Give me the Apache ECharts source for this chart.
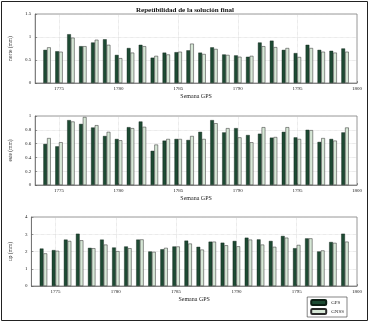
<!DOCTYPE html>
<html>
<head>
<meta charset="utf-8">
<script src="https://cdn.jsdelivr.net/npm/echarts@6/dist/echarts.min.js"></script>
<style>
  html, body { margin: 0; padding: 0; background: #fff; }
  #chart { width: 370px; height: 323px; }
</style>
</head>
<body>
<div id="chart"></div>
<script>
// GPS weeks on the x axis (1773 and 1800 are empty ends of the axis)
const weeks = [1773, 1774, 1775, 1776, 1777, 1778, 1779, 1780, 1781, 1782, 1783, 1784, 1785, 1786,
  1787, 1788, 1789, 1790, 1791, 1792, 1793, 1794, 1795, 1796, 1797, 1798, 1799, 1800];

// repeatability (mm), weeks 1774..1799
const norteGps = [0.72, 0.69, 1.06, 0.80, 0.88, 0.95, 0.61, 0.76, 0.83, 0.55, 0.66, 0.67, 0.71,
  0.66, 0.775, 0.62, 0.60, 0.57, 0.88, 0.92, 0.72, 0.65, 0.83, 0.72, 0.70, 0.75];
const norteGnss = [0.775, 0.68, 0.985, 0.80, 0.94, 0.83, 0.54, 0.66, 0.80, 0.59, 0.62, 0.68, 0.855,
  0.63, 0.74, 0.61, 0.57, 0.59, 0.80, 0.78, 0.76, 0.565, 0.76, 0.68, 0.66, 0.68];

const esteGps = [0.595, 0.56, 0.94, 0.885, 0.833, 0.71, 0.667, 0.838, 0.92, 0.495, 0.643, 0.667, 0.652,
  0.77, 0.94, 0.762, 0.824, 0.724, 0.743, 0.686, 0.77, 0.69, 0.80, 0.624, 0.667, 0.762];
const esteGnss = [0.68, 0.62, 0.92, 0.985, 0.867, 0.77, 0.648, 0.824, 0.843, 0.586, 0.667, 0.667, 0.71,
  0.667, 0.895, 0.824, 0.69, 0.619, 0.838, 0.695, 0.838, 0.667, 0.795, 0.68, 0.643, 0.833];

const upGps = [2.17, 2.08, 2.69, 3.03, 2.21, 2.69, 2.23, 2.29, 2.69, 2.00, 2.13, 2.29, 2.63,
  2.27, 2.57, 2.51, 2.61, 2.80, 2.70, 2.61, 2.90, 2.19, 2.76, 2.00, 2.55, 3.03];
const upGnss = [1.89, 2.04, 2.61, 2.65, 2.19, 2.40, 2.02, 2.19, 2.70, 1.98, 2.21, 2.29, 2.46,
  2.11, 2.57, 2.36, 2.30, 2.69, 2.40, 2.27, 2.80, 2.38, 2.76, 2.06, 2.50, 2.57];

const panels = [
  { name: "norte (mm)", gps: norteGps, gnss: norteGnss, max: 1.5, step: 0.5, top: 14 },
  { name: "este (mm)", gps: esteGps, gnss: esteGnss, max: 1, step: 0.2, top: 116 },
  { name: "up (mm)", gps: upGps, gnss: upGnss, max: 4, step: 1, top: 217 },
];

const FONT = "Liberation Serif";
const pad = (arr) => [null, ...arr, null];
const isTick = (i) => weeks[i] % 5 === 0;

const chart = echarts.init(document.getElementById("chart"), null, { renderer: "canvas" });

const grids = panels.map((p) => ({
  left: 22, right: 13, top: p.top, height: 69,
  show: true, borderColor: "#555", borderWidth: 0.6, backgroundColor: "#fff",
}));

const xAxes = panels.map((p, i) => ({
  type: "category", gridIndex: i, data: weeks, boundaryGap: false,
  name: "Semana GPS", nameLocation: "middle", nameGap: 10,
  nameTextStyle: { fontFamily: FONT, fontSize: 6, color: "#222" },
  axisLine: { lineStyle: { color: "#555", width: 0.6 } },
  axisTick: { inside: true, length: 2, interval: isTick, lineStyle: { color: "#555", width: 0.6 } },
  axisLabel: { interval: isTick, fontFamily: FONT, fontSize: 5, color: "#222", margin: 3 },
  splitLine: { show: true, interval: isTick, lineStyle: { color: "#c8c8c8", type: "dotted", width: 0.6 } },
}));

const yAxes = panels.map((p, i) => ({
  type: "value", gridIndex: i, min: 0, max: p.max, interval: p.step,
  name: p.name, nameLocation: "middle", nameGap: 12,
  nameTextStyle: { fontFamily: FONT, fontSize: 5.5, color: "#222" },
  axisLine: { show: true, lineStyle: { color: "#555", width: 0.6 } },
  axisTick: { show: true, inside: true, length: 2, lineStyle: { color: "#555", width: 0.6 } },
  axisLabel: { fontFamily: FONT, fontSize: 5, color: "#222", margin: 4 },
  splitLine: { show: true, lineStyle: { color: "#c8c8c8", type: "dotted", width: 0.6 } },
}));

const series = [];
panels.forEach((p, i) => {
  series.push({
    name: "GPS", type: "bar", xAxisIndex: i, yAxisIndex: i, data: pad(p.gps),
    barWidth: 3.7, barGap: "0%",
    itemStyle: { color: "#1d4a33", borderColor: "#0d1f15", borderWidth: 0.4 },
  });
  series.push({
    name: "GNSS", type: "bar", xAxisIndex: i, yAxisIndex: i, data: pad(p.gnss),
    barWidth: 3.7, barGap: "0%",
    itemStyle: { color: "#d6e7d6", borderColor: "#2a2a2a", borderWidth: 0.5 },
  });
});

chart.setOption({
  animation: false,
  backgroundColor: "#fff",
  title: {
    text: "Repetibilidad de la solución final", left: "center", top: 2,
    textStyle: { fontFamily: FONT, fontSize: 7, fontWeight: "bold", color: "#111" },
  },
  legend: {
    data: ["GPS", "GNSS"], orient: "vertical", right: 23, bottom: 6,
    backgroundColor: "#fff", borderColor: "#333", borderWidth: 0.6,
    padding: [2, 3], itemGap: 2, itemWidth: 15, itemHeight: 5,
    textStyle: { fontFamily: FONT, fontSize: 5, color: "#222" },
  },
  graphic: [{
    type: "rect", shape: { x: 1.5, y: 1.5, width: 366, height: 319 },
    style: { fill: "none", stroke: "#222", lineWidth: 1 }, silent: true,
  }],
  grid: grids,
  xAxis: xAxes,
  yAxis: yAxes,
  series: series,
});
</script>
</body>
</html>
